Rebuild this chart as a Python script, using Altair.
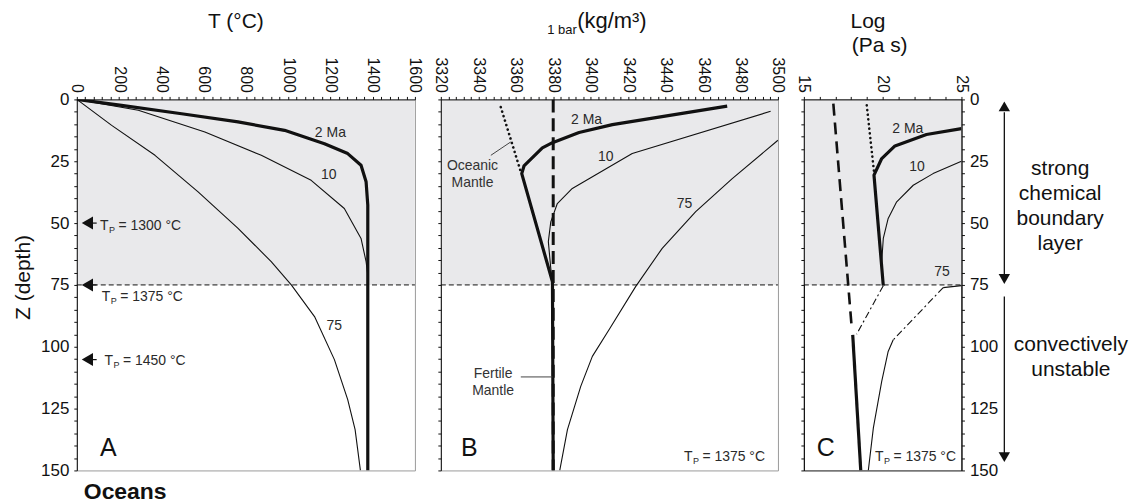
import altair as alt
import pandas as pd

FONT = "Liberation Sans"
SHADE = "#e9e9eb"
INK = "#111111"
LABEL_INK = "#2a2a2a"

# ---------------- axes / tick values ----------------
DEPTH_DOMAIN = [0, 150]
BOUNDARY_Z = 75
DEPTH_TICKS = list(range(0, 151, 5))          # labelled every 25
A_DOMAIN = [0, 1600]
A_TICKS = list(range(0, 1601, 40))            # labelled every 200
B_DOMAIN = [3320, 3500]
B_TICKS = list(range(3320, 3501, 4))          # labelled every 20
C_DOMAIN = [15, 25]
C_TICKS = [15 + 0.5 * i for i in range(21)]   # labelled every 5

# ---------------- panel A : temperature (deg C) vs depth (km) ----------------
A_2MA_T = [0, 212, 496, 763, 983, 1172, 1282, 1345, 1369, 1377, 1377]
A_2MA_Z = [0, 2.4, 5.8, 9.1, 12.5, 17.9, 21.9, 26.6, 33.3, 42.7, 150]
A_10_T = [0, 291, 606, 873, 1109, 1266, 1345, 1369, 1377]
A_10_Z = [0, 4.4, 13.2, 22.6, 32.7, 44.1, 56.2, 65.6, 71]
A_75_T = [0, 165, 370, 574, 763, 920, 1015, 1125, 1219, 1282, 1317, 1342]
A_75_Z = [0, 10.5, 22.6, 37.4, 52.1, 65.6, 75, 87.8, 105.2, 121.4, 133.5, 150]
A_CURVE_LABELS = ["2 Ma", "10", "75"]
A_CURVE_LABEL_T = [1200, 1192, 1218]
A_CURVE_LABEL_Z = [13.4, 30.6, 91.8]
A_TP_TEXT = ["= 1300 °C", "= 1375 °C", "= 1450 °C"]
A_TP_T = [110, 118, 131]
A_TP_Z = [52.8, 81.7, 107.3]
A_ARROW_Z = [50, 75, 105.2]
A_ARROW_T = [50, 50, 50]
A_ARROW_END_T = [94, 94, 94]

# ---------------- panel B : density at 1 bar (kg/m3) ----------------
B_FERTILE_RHO = [3380, 3380]
B_FERTILE_Z = [0, 150]
B_OCEANIC_RHO = [3352, 3362.7]
B_OCEANIC_Z = [3.1, 29.3]
B_2MA_RHO = [3472.9, 3411.6, 3393.8, 3379.6, 3374.2, 3364.4, 3363.2, 3379.6, 3380]
B_2MA_Z = [2.7, 10.2, 13.4, 17.5, 19.6, 26.9, 30, 73.7, 150]
B_10_RHO = [3496.1, 3422.2, 3390.2, 3382.2, 3378.7, 3377.4, 3378.7, 3379.6]
B_10_Z = [4.8, 21.9, 36, 42.1, 49.5, 57.5, 68.3, 73.7]
B_75_RHO = [3500, 3475.6, 3456.1, 3438.2, 3424, 3409.8, 3400.9, 3394.7, 3387.6, 3383.5]
B_75_Z = [16.5, 32, 45.4, 60.2, 75.7, 93.1, 103.9, 116, 133.5, 150]
B_CURVE_LABELS = ["2 Ma", "10", "75"]
B_CURVE_LABEL_RHO = [3397.8, 3408, 3450.1]
B_CURVE_LABEL_Z = [8.5, 23.3, 42.1]
B_NOTE_TEXT = ["Oceanic\nMantle", "Fertile\nMantle"]
B_NOTE_RHO = [3336.9, 3347.9]
B_NOTE_Z = [28.4, 112.6]
B_LEADER_RHO = [3346.7, 3362.7]
B_LEADER_RHO2 = [3357.3, 3379.6]
B_LEADER_Z = [22.6, 112.2]
B_LEADER_Z2 = [17.2, 112.2]

# ---------------- panel C : log viscosity (Pa s) ----------------
C_FERTILE_ETA = [16.87, 18.04]
C_FERTILE_Z = [1.7, 92.5]
C_DEEP_ETA = [18.1, 18.61]
C_DEEP_Z = [95.2, 150]
C_OCEANIC_ETA = [18.99, 19.45]
C_OCEANIC_Z = [2.4, 29.3]
C_2MA_ETA = [25, 22.78, 20.78, 19.94, 19.45, 20.04]
C_2MA_Z = [11.8, 14.2, 18.8, 23.9, 30.6, 75.3]
C_2MA_UNSTABLE_ETA = [20.04, 18.35]
C_2MA_UNSTABLE_Z = [75.3, 94.9]
C_10_ETA = [25, 23.2, 21.94, 20.89, 20.35, 20.04, 19.94]
C_10_Z = [25, 30, 34.7, 41.4, 48.1, 56.2, 65.6]
C_75_TOP_ETA = [25, 23.84]
C_75_TOP_Z = [75.3, 76.1]
C_75_UNSTABLE_ETA = [23.84, 20.67]
C_75_UNSTABLE_Z = [76.1, 97.2]
C_75_ETA = [20.67, 20.35, 19.94, 19.41, 19.09]
C_75_Z = [97.2, 101.9, 114, 132.8, 150]
C_CURVE_LABELS = ["2 Ma", "10", "75"]
C_CURVE_LABEL_ETA = [21.6, 22.18, 23.76]
C_CURVE_LABEL_Z = [11.8, 27.3, 69.6]

TP_NOTE = "= 1375 °C"
B_TP_RHO, B_TP_Z = 3449.8, 146.3
C_TP_ETA, C_TP_Z = 19.51, 146.3

# right-hand annotation (depth ranges of the arrows)
BRACKET_Z = [5.2, 79.7]
BRACKET_Z2 = [72.6, 143]
ARROW_HEAD_SHAPE = ["triangle-up", "triangle-down", "triangle-down"]
ARROW_HEAD_Z = [2.8, 72.6, 144.6]

YS = alt.Scale(domain=DEPTH_DOMAIN, reverse=True, nice=False, zero=False)
TITLE_SIZE = 21


def xs(dom):
    return alt.Scale(domain=dom, nice=False, zero=False)


COMMON_AXIS = dict(grid=False, domain=True, ticks=True, tickSize=3, labelFlush=False,
                   labelOverlap=False, zindex=1, domainColor=INK, tickColor=INK,
                   labelColor=INK, format="d")


def top_axis(values, major):
    return alt.Axis(orient="top", values=values, title=None,
                    labelExpr=f"datum.value % {major} === 0 ? datum.label : ''",
                    labelAngle=90, labelAlign="right", labelBaseline="middle",
                    labelFontSize=16, labelPadding=4, **COMMON_AXIS)


def depth_axis(orient, labels, title=None):
    kw = dict(orient=orient, values=DEPTH_TICKS, labelFontSize=17, labelPadding=5, **COMMON_AXIS)
    if labels:
        kw["labelExpr"] = "datum.value % 25 === 0 ? datum.label : ''"
    else:
        kw["labels"] = False
    if title:
        kw.update(title=title, titleFontSize=TITLE_SIZE, titleFontWeight="normal",
                  titlePadding=7, titleColor=INK, titleY=178)
    else:
        kw["title"] = None
    return alt.Axis(**kw)


def X(dom, axis=None):
    return alt.X("x:Q", scale=xs(dom), axis=axis)


def Y(axis=None):
    return alt.Y("z:Q", scale=YS, axis=axis)


def shade(dom, xaxis, yaxis):
    df = pd.DataFrame({"x": [dom[0]], "x2": [dom[1]], "z": [0], "z2": [BOUNDARY_Z]})
    return alt.Chart(df).mark_rect(color=SHADE).encode(
        x=X(dom, xaxis), x2="x2", y=Y(yaxis), y2="z2")


def boundary_rule(dom, yaxis=None):
    df = pd.DataFrame({"x": [dom[0]], "x2": [dom[1]], "z": [BOUNDARY_Z]})
    return alt.Chart(df).mark_rule(color=INK, strokeWidth=1, strokeDash=[5, 3]).encode(
        x=X(dom), x2="x2", y=Y(yaxis))


def line(xv, zv, dom, width=1.0, dash=None, cap="butt", color=INK):
    df = pd.DataFrame({"x": xv, "z": zv, "i": list(range(len(xv)))})
    kw = dict(color=color, strokeWidth=width, strokeCap=cap, strokeJoin="round", clip=True)
    if dash:
        kw["strokeDash"] = dash
    return alt.Chart(df).mark_line(**kw).encode(x=X(dom), y=Y(), order="i:Q")


def segs(x1, x2, z1, z2, dom, color="#444444", width=1.0):
    df = pd.DataFrame({"x": x1, "x2": x2, "z": z1, "z2": z2})
    return alt.Chart(df).mark_rule(color=color, strokeWidth=width).encode(
        x=X(dom), x2="x2", y=Y(), y2="z2")


def dtext(texts, xv, zv, dom, size=14, align="center", baseline="middle",
          dx=0, dy=0, weight="normal", color=LABEL_INK, line_height=None):
    df = pd.DataFrame({"x": xv, "z": zv, "t": texts})
    kw = dict(font=FONT, fontSize=size, align=align, baseline=baseline, dx=dx, dy=dy,
              fontWeight=weight, color=color, lineBreak="\n")
    if line_height:
        kw["lineHeight"] = line_height
    return alt.Chart(df).mark_text(**kw).encode(x=X(dom), y=Y(), text="t:N")


def ptext(txt, x, y, size, align="left", baseline="alphabetic", weight="normal",
          color=INK, line_height=None):
    kw = dict(font=FONT, fontSize=size, align=align, baseline=baseline,
              fontWeight=weight, color=color)
    if line_height:
        kw["lineHeight"] = line_height
    return alt.Chart(pd.DataFrame({"k": [0]})).mark_text(**kw).encode(
        x=alt.value(x), y=alt.value(y), text=alt.value(txt))


def tp_label(rest, xv, zv, dom, color=LABEL_INK):
    n = len(xv)
    return [
        dtext(["T"] * n, xv, zv, dom, size=14, align="left", baseline="alphabetic", color=color),
        dtext(["P"] * n, xv, zv, dom, size=9, align="left", baseline="alphabetic",
              dx=9, dy=3, color=color),
        dtext(rest, xv, zv, dom, size=14, align="left", baseline="alphabetic", dx=18.5, color=color),
    ]


# ---------------- panel A ----------------
WA, WB, WC, H = 339, 338, 158, 372

arrow_df = pd.DataFrame({"x": A_ARROW_T, "x2": A_ARROW_END_T, "z": A_ARROW_Z})
a_arrows = alt.Chart(arrow_df).mark_point(shape="triangle-left", filled=True, size=170,
                                          color=INK, opacity=1).encode(x=X(A_DOMAIN), y=Y())
a_stems = alt.Chart(arrow_df).mark_rule(color=INK, strokeWidth=1.2).encode(
    x=X(A_DOMAIN), x2="x2", y=Y())

panel_a = alt.layer(
    shade(A_DOMAIN, top_axis(A_TICKS, 200), depth_axis("left", True, "Z (depth)")),
    boundary_rule(A_DOMAIN),
    line(A_75_T, A_75_Z, A_DOMAIN, 1.1),
    line(A_10_T, A_10_Z, A_DOMAIN, 1.1),
    line(A_2MA_T, A_2MA_Z, A_DOMAIN, 3.2),
    dtext(A_CURVE_LABELS, A_CURVE_LABEL_T, A_CURVE_LABEL_Z, A_DOMAIN),
    a_stems, a_arrows,
    *tp_label(A_TP_TEXT, A_TP_T, A_TP_Z, A_DOMAIN),
    dtext(["A"], [110], [144.2], A_DOMAIN, size=25, align="left", baseline="alphabetic", color=INK),
    ptext("T (°C)", 159.5, -72, TITLE_SIZE, align="center"),
    ptext("Oceans", 7, 400.5, 23, weight="bold"),
).properties(width=WA, height=H).resolve_axis(x="independent", y="independent")

# ---------------- panel B ----------------
panel_b = alt.layer(
    shade(B_DOMAIN, top_axis(B_TICKS, 20), depth_axis("left", False)),
    boundary_rule(B_DOMAIN),
    line(B_75_RHO, B_75_Z, B_DOMAIN, 1.1),
    line(B_10_RHO, B_10_Z, B_DOMAIN, 1.1),
    line(B_FERTILE_RHO, B_FERTILE_Z, B_DOMAIN, 3, dash=[13, 6]),
    line(B_OCEANIC_RHO, B_OCEANIC_Z, B_DOMAIN, 2.6, dash=[0.1, 4.6], cap="round"),
    line(B_2MA_RHO, B_2MA_Z, B_DOMAIN, 3.2),
    segs(B_LEADER_RHO, B_LEADER_RHO2, B_LEADER_Z, B_LEADER_Z2, B_DOMAIN),
    dtext(B_NOTE_TEXT, B_NOTE_RHO, B_NOTE_Z, B_DOMAIN, size=14, baseline="alphabetic",
          color="#333333", line_height=17),
    dtext(B_CURVE_LABELS, B_CURVE_LABEL_RHO, B_CURVE_LABEL_Z, B_DOMAIN),
    dtext(["B"], [3330.7], [144.2], B_DOMAIN, size=25, align="left", baseline="alphabetic", color=INK),
    *tp_label([TP_NOTE], [B_TP_RHO], [B_TP_Z], B_DOMAIN),
    ptext("1 bar", 106.7, -66, 13),
    ptext("(kg/m³)", 136.7, -72, 22),
).properties(width=WB, height=H).resolve_axis(x="independent", y="independent")

# ---------------- panel C ----------------
heads_df = pd.DataFrame({"z": ARROW_HEAD_Z, "s": ARROW_HEAD_SHAPE})
c_heads = alt.Chart(heads_df).mark_point(filled=True, size=130, color=INK, opacity=1).encode(
    x=alt.value(201), y=Y(), shape=alt.Shape("s:N", scale=None))
bracket_df = pd.DataFrame({"z": BRACKET_Z, "z2": BRACKET_Z2})
c_brackets = alt.Chart(bracket_df).mark_rule(color=INK, strokeWidth=1.3).encode(
    x=alt.value(201), y=Y(), y2="z2")

panel_c = alt.layer(
    shade(C_DOMAIN, top_axis(C_TICKS, 5), depth_axis("left", False)),
    boundary_rule(C_DOMAIN, depth_axis("right", True)),
    line(C_FERTILE_ETA, C_FERTILE_Z, C_DOMAIN, 2.6, dash=[12, 7]),
    line(C_DEEP_ETA, C_DEEP_Z, C_DOMAIN, 3.2),
    line(C_OCEANIC_ETA, C_OCEANIC_Z, C_DOMAIN, 2.6, dash=[0.1, 4.6], cap="round"),
    line(C_10_ETA, C_10_Z, C_DOMAIN, 1.1),
    line(C_2MA_ETA, C_2MA_Z, C_DOMAIN, 3.2),
    line(C_2MA_UNSTABLE_ETA, C_2MA_UNSTABLE_Z, C_DOMAIN, 1.1, dash=[7, 3, 2, 3]),
    line(C_75_TOP_ETA, C_75_TOP_Z, C_DOMAIN, 1.1),
    line(C_75_UNSTABLE_ETA, C_75_UNSTABLE_Z, C_DOMAIN, 1.1, dash=[7, 3, 2, 3]),
    line(C_75_ETA, C_75_Z, C_DOMAIN, 1.1),
    dtext(C_CURVE_LABELS, C_CURVE_LABEL_ETA, C_CURVE_LABEL_Z, C_DOMAIN),
    dtext(["C"], [15.82], [144.2], C_DOMAIN, size=25, align="left", baseline="alphabetic", color=INK),
    *tp_label([TP_NOTE], [C_TP_ETA], [C_TP_Z], C_DOMAIN),
    ptext("Log", 64.3, -72, TITLE_SIZE, align="center"),
    ptext("(Pa s)", 76, -47.3, TITLE_SIZE, align="center"),
    c_brackets, c_heads,
    ptext(["strong", "chemical", "boundary", "layer"], 257, 76, TITLE_SIZE, align="center",
          line_height=25),
    ptext(["convectively", "unstable"], 267.7, 252.7, TITLE_SIZE, align="center", line_height=24.5),
).properties(width=WC, height=H, view=alt.ViewBackground(stroke=INK)).resolve_axis(
    x="independent", y="independent")

chart = alt.hconcat(panel_a, panel_b, panel_c, spacing=26, bounds="flush").properties(
    padding={"left": 4, "top": 0, "right": 0, "bottom": 0}
).configure_view(stroke="#9a9a9a", strokeWidth=1).configure_axis(
    domainColor=INK, tickColor=INK, labelColor=INK, titleColor=INK,
    labelFont=FONT, titleFont=FONT, domainWidth=1, tickWidth=1
).configure_text(font=FONT)

chart.save("out.html", embed_options={"renderer": "svg", "actions": False})
